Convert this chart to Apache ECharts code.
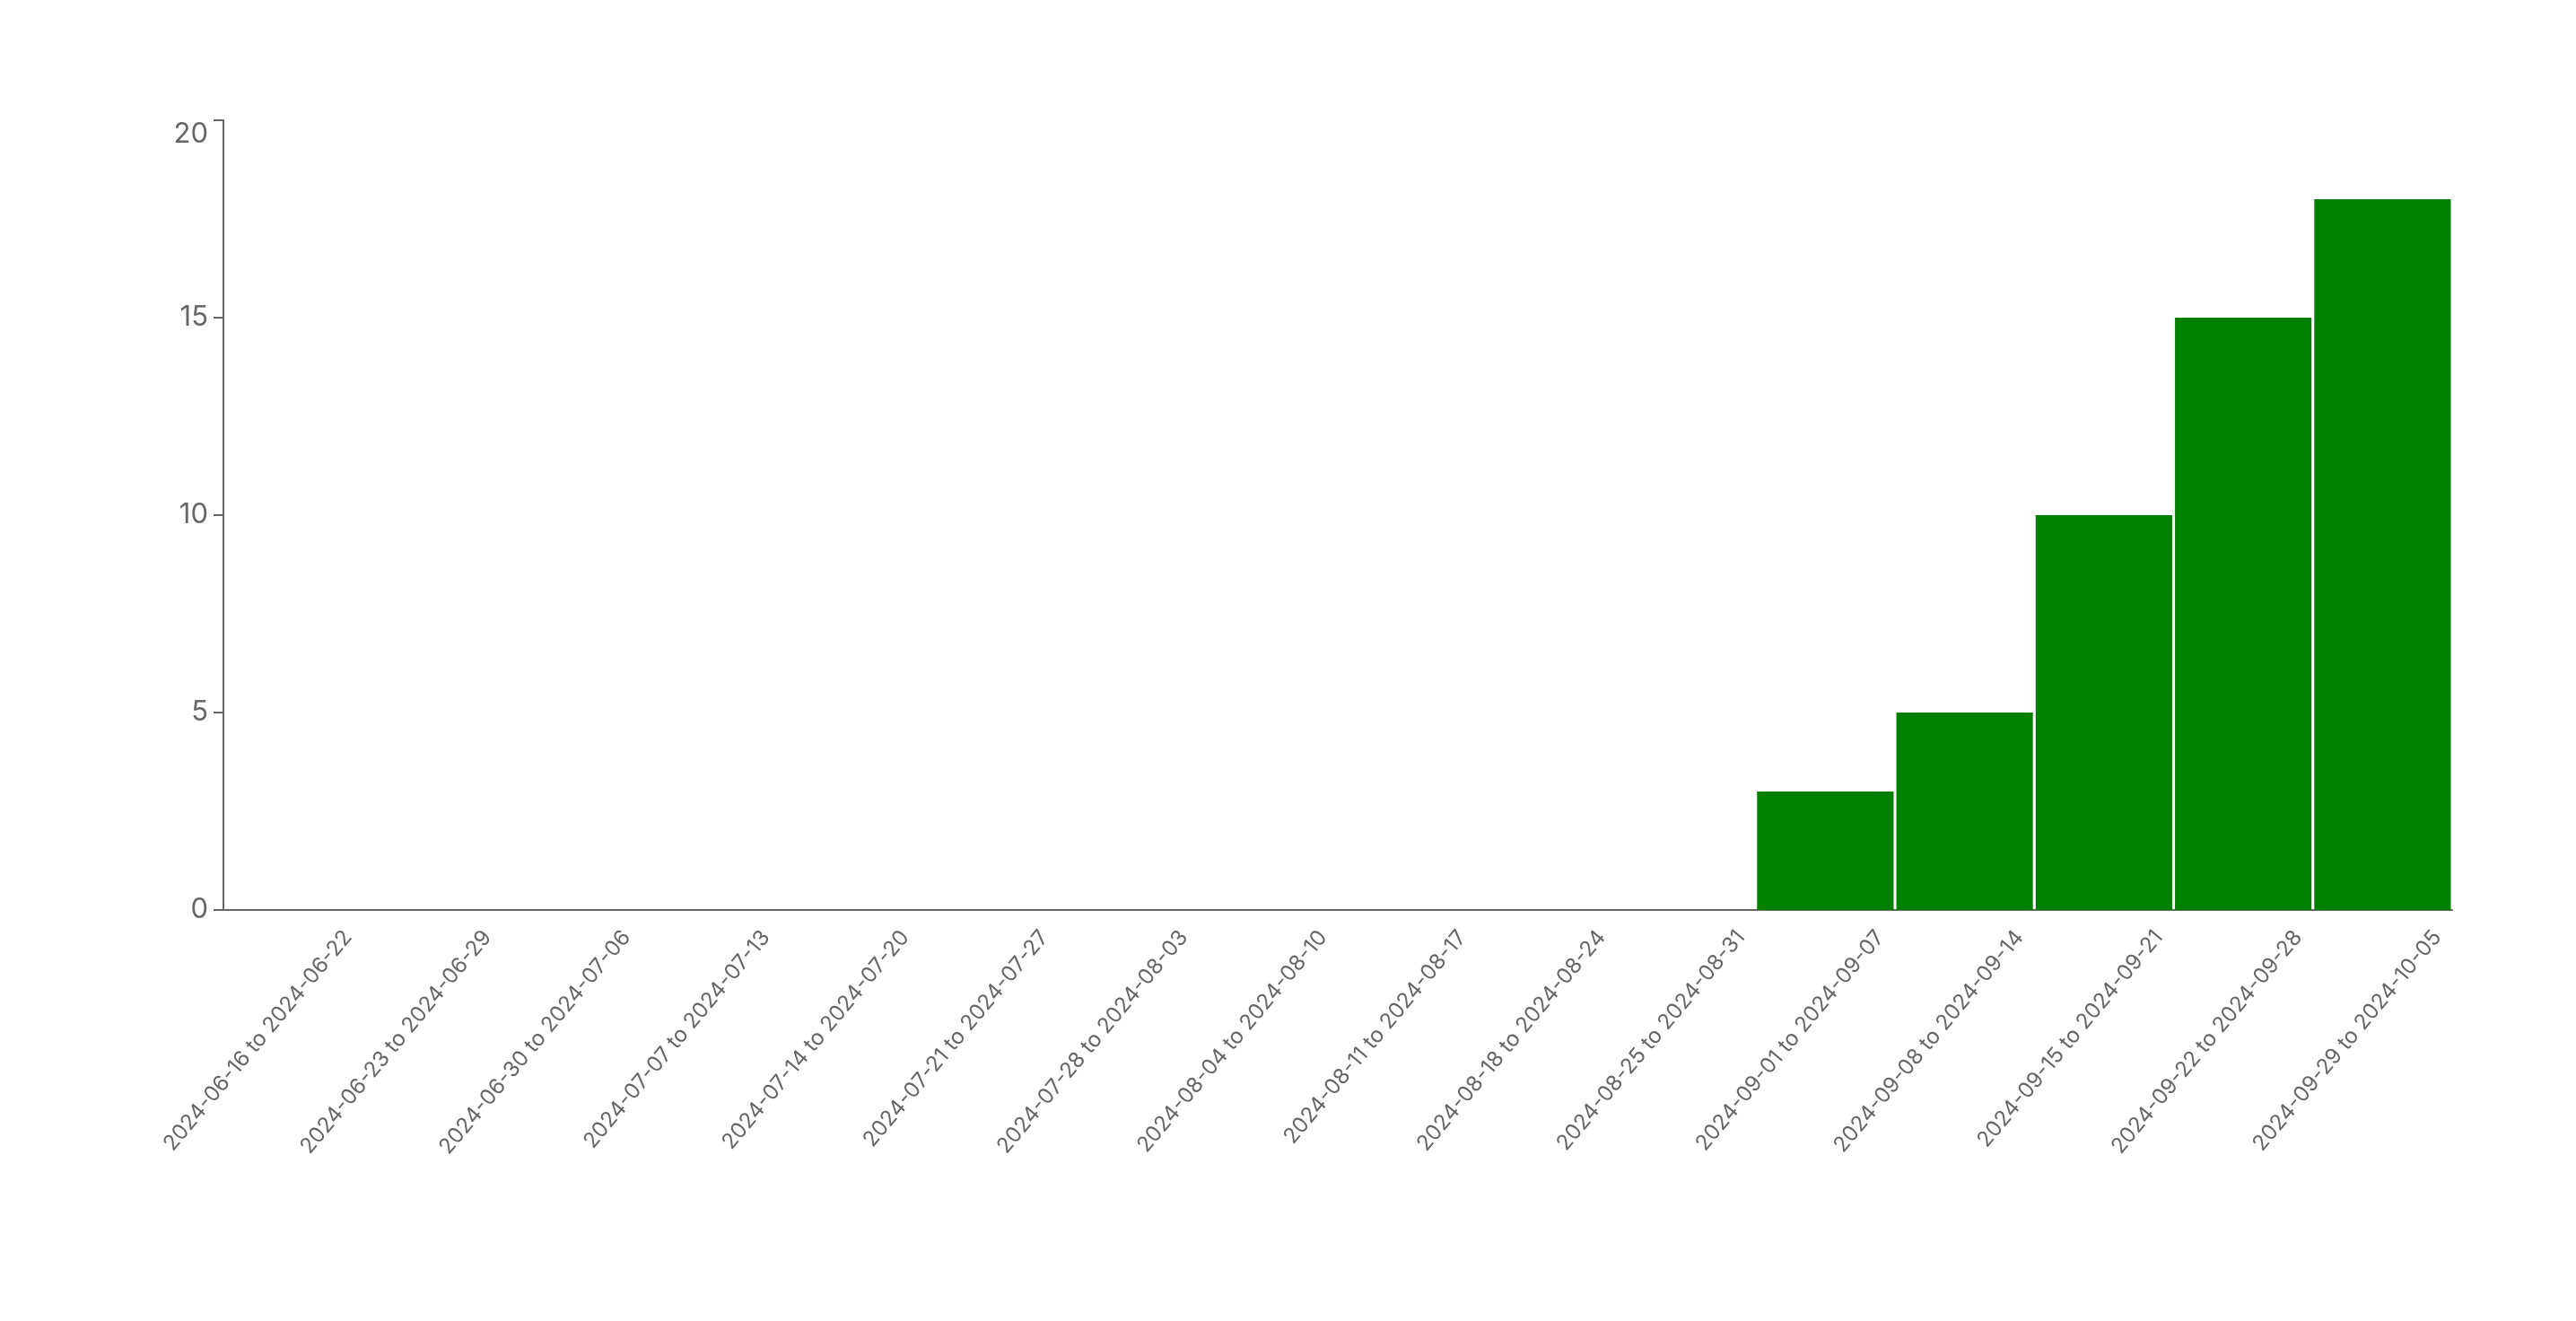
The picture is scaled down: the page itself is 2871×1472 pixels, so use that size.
<!DOCTYPE html>
<html>
<head>
<meta charset="utf-8">
<script src="https://cdn.jsdelivr.net/npm/echarts@6/dist/echarts.min.js"></script>
<style>
  html, body { margin: 0; padding: 0; background: #fff; }
  #chart { width: 2871px; height: 1472px; }
</style>
</head>
<body>
<div id="chart"></div>
<script>
// weekly buckets
const weeks = [
  '2024-06-16 to 2024-06-22',
  '2024-06-23 to 2024-06-29',
  '2024-06-30 to 2024-07-06',
  '2024-07-07 to 2024-07-13',
  '2024-07-14 to 2024-07-20',
  '2024-07-21 to 2024-07-27',
  '2024-07-28 to 2024-08-03',
  '2024-08-04 to 2024-08-10',
  '2024-08-11 to 2024-08-17',
  '2024-08-18 to 2024-08-24',
  '2024-08-25 to 2024-08-31',
  '2024-09-01 to 2024-09-07',
  '2024-09-08 to 2024-09-14',
  '2024-09-15 to 2024-09-21',
  '2024-09-22 to 2024-09-28',
  '2024-09-29 to 2024-10-05'
]
const counts = [0, 0, 0, 0, 0, 0, 0, 0, 0, 0, 0, 3, 5, 10, 15, 18]

const axisColor = '#666'

const chart = echarts.init(document.getElementById('chart'))
chart.setOption({
  animation: false,
  grid: {
    left: 249,
    right: 138,
    top: 134,
    bottom: 458
  },
  xAxis: {
    type: 'category',
    data: weeks,
    axisLine: {
      lineStyle: { color: axisColor, width: 2 }
    },
    axisTick: {
      alignWithLabel: true,
      length: 12,
      lineStyle: { color: axisColor, width: 2 }
    },
    axisLabel: {
      interval: 0,
      rotate: 50,
      margin: 99,
      padding: [0, -95, 0, 0],
      color: axisColor,
      fontFamily: 'Inter',
      fontSize: 24
    }
  },
  yAxis: {
    type: 'value',
    min: 0,
    max: 20,
    interval: 5,
    splitLine: { show: false },
    axisLine: {
      show: true,
      lineStyle: { color: axisColor, width: 2 }
    },
    axisTick: {
      show: true,
      length: 11,
      lineStyle: { color: axisColor, width: 2 }
    },
    axisLabel: {
      margin: 17,
      color: axisColor,
      fontFamily: 'Inter',
      fontSize: 31,
      verticalAlignMaxLabel: 'top'
    }
  },
  series: [{
    type: 'bar',
    data: counts,
    barCategoryGap: '2%',
    itemStyle: { color: '#008000' }
  }]
})
</script>
</body>
</html>
